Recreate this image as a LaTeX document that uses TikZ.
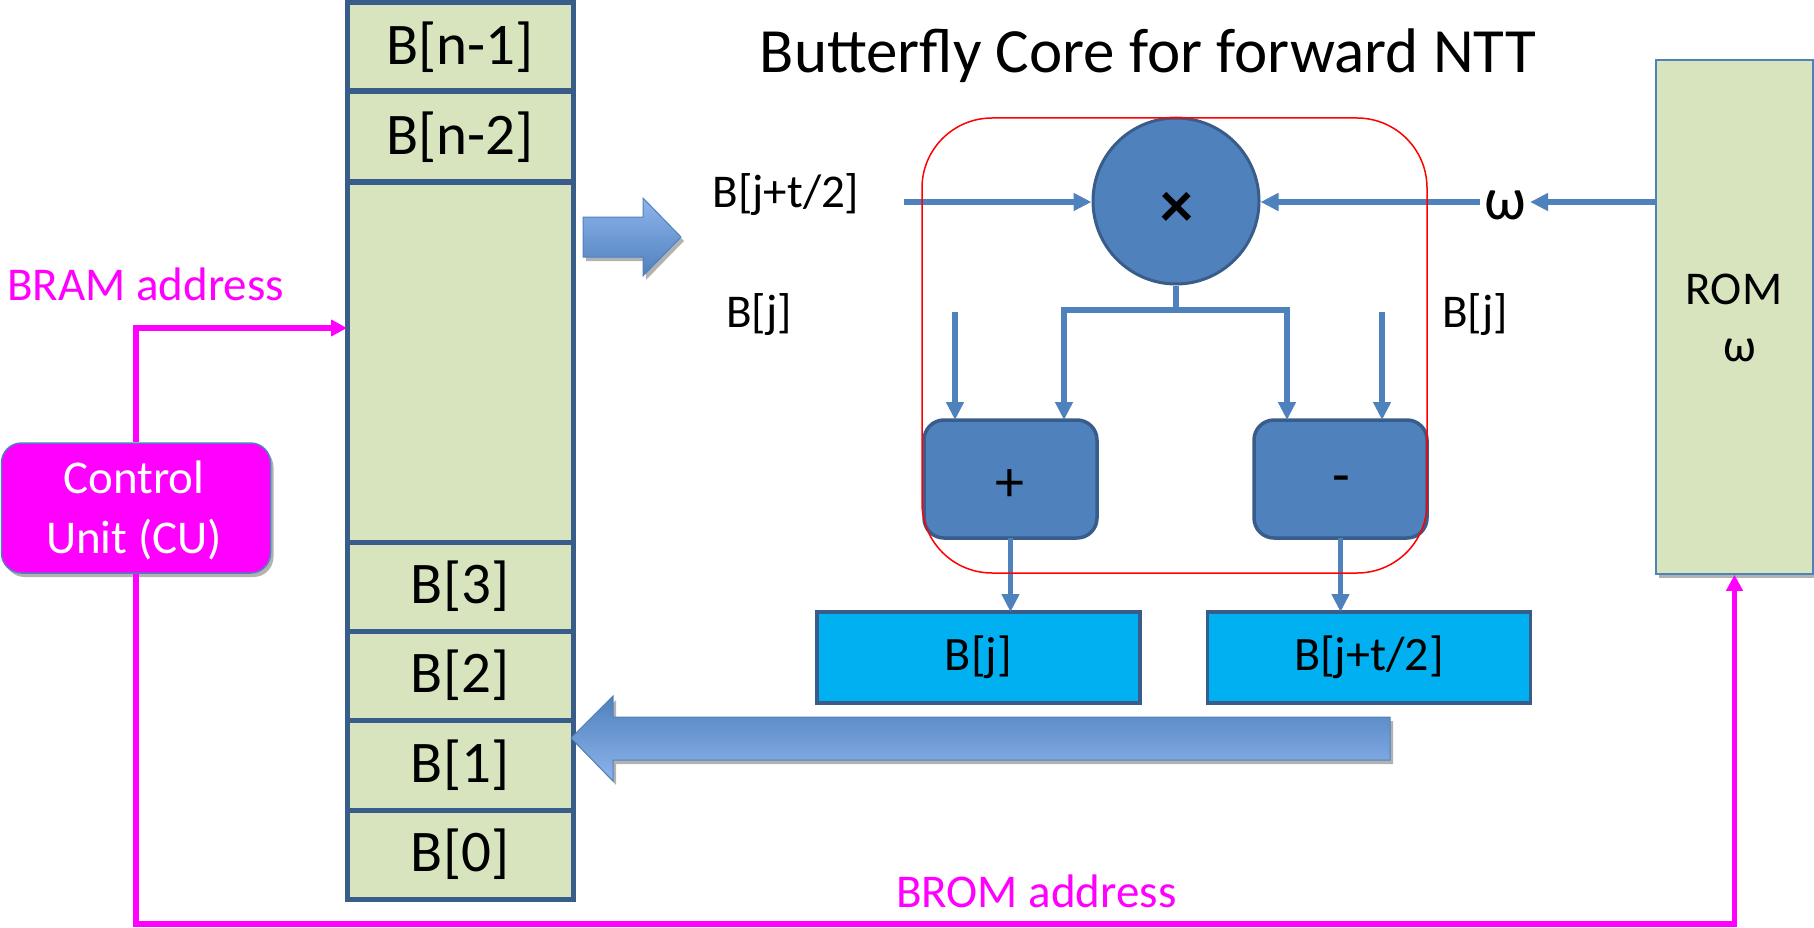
\documentclass[tikz,border=0pt]{standalone}
\usepackage{fontspec}
\setmainfont{Carlito}
\usetikzlibrary{arrows.meta,shadows,calc}
\definecolor{cellgreen}{HTML}{D7E4BD}
\definecolor{darkblue}{HTML}{385D8A}
\definecolor{midblue}{HTML}{4F81BD}
\definecolor{lightarrow}{HTML}{8EB4EC}
\definecolor{cyanbox}{HTML}{00B0F0}
\definecolor{mag}{HTML}{FF00FF}
\tikzset{
  cell/.style={draw=darkblue, line width=5pt, fill=cellgreen, minimum width=226pt, inner sep=0pt, outer sep=0pt, font=\fontsize{59}{60}\selectfont},
  opbox/.style={draw=darkblue, line width=3.5pt, fill=midblue, rounded corners=20pt, minimum width=173pt, minimum height=118pt, inner sep=0pt, outer sep=0pt},
  optxt/.style={inner sep=0pt, font=\fontsize{58}{60}\selectfont},
  outbox/.style={draw=darkblue, line width=3.5pt, fill=cyanbox, minimum width=323pt, minimum height=91pt, inner sep=0pt, outer sep=0pt, font=\fontsize{48}{50}\selectfont},
  lbl/.style={inner sep=0pt, font=\fontsize{47}{50}\selectfont},
  blueline/.style={draw=midblue, line width=5.5pt},
  bluearrow/.style={blueline, -{Triangle[length=18pt,width=17pt]}},
  magline/.style={draw=mag, line width=5.5pt},
  magarrow/.style={magline, -{Triangle[length=16pt,width=16pt]}},
  softshadow/.style={drop shadow={shadow xshift=3pt, shadow yshift=-4pt, opacity=0.3, fill=black}}
}
\begin{document}
\begin{tikzpicture}[x=1pt,y=-1pt]
\useasboundingbox (0,0) rectangle (1814,928);

% memory column
\node[cell, minimum height=88pt] (bn1) at (460,47) {B[n-1]};
\node[cell, minimum height=90pt] (bn2) at (460,137) {B[n-2]};
\node[cell, minimum height=359pt] (bmid) at (460,362.5) {};
\node[cell, minimum height=89pt] (b3) at (460,586.5) {B[3]};
\node[cell, minimum height=89pt] (b2) at (460,675.5) {B[2]};
\node[cell, minimum height=90pt] (b1) at (460,765) {B[1]};
\node[cell, minimum height=89pt] (b0) at (460,854.5) {B[0]};

% title
\node[inner sep=0pt, font=\fontsize{63}{70}\selectfont] (title) at (1148,56) {Butterfly Core for forward NTT};

% gradient arrows
\shade[top color=lightarrow, bottom color=midblue, draw=midblue, line width=1pt, softshadow]
  (583,217) -- (643,217) -- (643,198) -- (681,237) -- (643,276) -- (643,257) -- (583,257) -- cycle;
\shade[top color=midblue, bottom color=lightarrow, draw=midblue, line width=1pt, softshadow]
  (1390,717) -- (613,717) -- (613,696) -- (571,738) -- (613,781) -- (613,760) -- (1390,760) -- cycle;

% control unit and ROM
\node[draw=midblue, line width=1.5pt, fill=mag, rounded corners=20pt, minimum width=269pt, minimum height=130pt, inner sep=0pt, softshadow] (cu) at (136,508) {};
\node[lbl, text=white, align=center, font=\fontsize{47}{60}\selectfont] (cutxt) at (134,510) {Control\\Unit (CU)};
\node[draw=midblue, line width=1.5pt, fill=cellgreen, minimum width=157pt, minimum height=514pt, inner sep=0pt, softshadow] (rom) at (1734.5,317) {};
\node[lbl] (romtxt) at (1734,289) {ROM};
\node[lbl] (romw) at (1740,350) {ω};

% labels
\node[lbl, text=mag, anchor=base west] (bram) at (7,300) {BRAM address};
\node[lbl, text=mag, anchor=base west] (brom) at (896,907) {BROM address};
\node[lbl] (inlab) at (786,195) {B[j+t/2]};
\node[lbl] (bjl) at (759,315) {B[j]};
\node[lbl] (bjr) at (1475,315) {B[j]};

% butterfly core
\node[circle, fill=midblue, draw=darkblue, line width=3pt, minimum size=166pt, inner sep=0pt] (mul) at (1176,201) {};
\node[inner sep=0pt, font=\fontsize{66}{66}\selectfont\bfseries] (mulsym) at (1177,210) {×};
\node[opbox] (plus) at (1010.5,479) {};
\node[optxt] (plustxt) at (1010,486) {+};
\node[opbox] (minus) at (1340.5,479) {};
\node[optxt] (minustxt) at (1341,485) {-};
\node[outbox] (bj) at (978.5,657.5) {B[j]};
\node[outbox] (bjt) at (1369,657.5) {B[j+t/2]};
\node[inner sep=4pt, font=\fontsize{60}{60}\selectfont] (omega) at (1505,205) {ω};

% blue connectors
\coordinate (inL) at (904,202);
\draw[bluearrow] (inL) -- (inL -| mul.west);
\draw[bluearrow] (rom.west |- inL) -- (omega.east |- inL);
\draw[bluearrow] (omega.west |- inL) -- (inL -| mul.east);
\coordinate (fk) at (1176,310);
\coordinate (fkL) at (1064,310);
\coordinate (fkR) at (1287,310);
\draw[blueline] (mul.south) -- (fk);
\draw[blueline, line cap=rect] (fkL) -- (fkR);
\draw[bluearrow] (fkL) -- (fkL |- plus.north);
\draw[bluearrow] (fkR) -- (fkR |- minus.north);
\coordinate (sL) at (955,312);
\coordinate (sR) at (1382,312);
\draw[bluearrow] (sL) -- (sL |- plus.north);
\draw[bluearrow] (sR) -- (sR |- minus.north);
\draw[bluearrow] (plus.south) -- (plus.south |- bj.north);
\draw[bluearrow] (minus.south) -- (minus.south |- bjt.north);

% red core outline
\node[draw=red, line width=1.5pt, rounded corners=70pt, minimum width=505pt, minimum height=455pt, inner sep=0pt] (core) at (1174.5,345.5) {};

% magenta connectors
\coordinate (bramy) at (0,328);
\coordinate (bromy) at (0,924);
\draw[magarrow] (cu.north) -- (cu.north |- bramy) -- (bramy -| bmid.west);
\draw[magarrow] (cu.south) -- (cu.south |- bromy) -- (rom.south |- bromy) -- (rom.south);
\end{tikzpicture}
\end{document}
